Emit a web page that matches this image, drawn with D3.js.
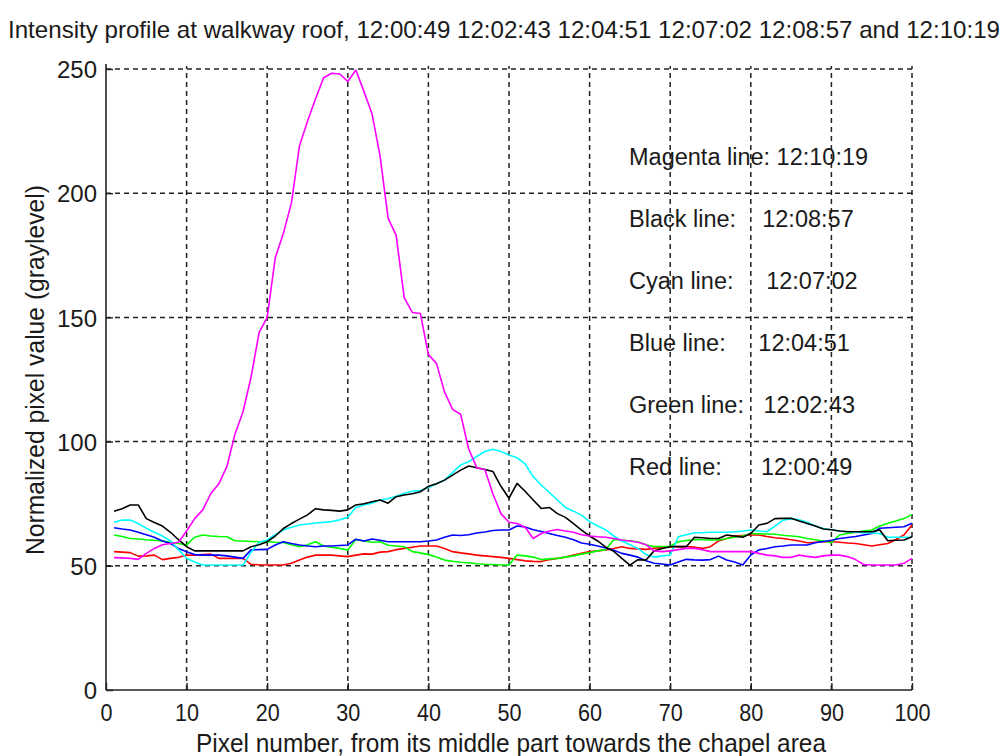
<!DOCTYPE html>
<html>
<head>
<meta charset="utf-8">
<script src="https://cdn.jsdelivr.net/npm/d3@7"></script>
<style>
  html, body { margin: 0; padding: 0; background: #fff; }
  svg { display: block; }
  .narrow { font-family: "Liberation Sans Narrow", "Arial Narrow", "Liberation Sans", Arial, sans-serif; }
  .legend { font-family: "Liberation Sans", Arial, Helvetica, sans-serif; white-space: pre; }
</style>
</head>
<body>
<svg id="chart" width="1004" height="756"></svg>
<script>
// Pixel positions along the profile (1..100)
const pixels = d3.range(1, 101);

// Normalized graylevel along the profile for each capture time
const magenta = [53.3,53.2,53,52.6,55,57,58.5,59,59.5,64,69,72.5,79,83,90,103,112,126,144,150,
  174,183.8,196,219,229,238,246.5,248.3,248,245,249.6,241,232,215,190,183,158,152,151.6,135,
  131.5,120,113,111,97,89.5,88.8,79,71,67.5,67,65.5,61,63,64,64.6,64,63.5,62.5,62,
  61.7,61.5,61,60.4,60,59.5,58.5,56,55.7,56,56.5,57,57,56.5,55.7,55.7,55.7,55.7,55.7,55.7,
  55,54.3,54,53.4,53.4,54.3,53.8,53.4,54,54.3,54.3,53.7,52.5,50.5,50.3,50.3,50.3,50.3,51,53];

const black = [72,73,74.5,74.5,69,67.4,66,63.5,60.5,57.7,56,56,56,56,56,56,56,57.7,58.5,59.7,
  62,65,67,68.8,70.5,73,72.5,72.3,72,72.5,74.5,75,75.8,76.5,75.2,77.8,78.5,79,79.8,82,
  83,84.5,86.5,88.5,90.2,89.5,88.8,88,82,77.2,83.2,80,76.5,73.1,73.5,71,69.5,67,64.4,62,
  60,57.5,55.8,53,50.3,52.5,52.3,56,57,57.7,57.7,57.7,61.5,61.3,61,61,62.4,62,61.5,63,
  66.4,67.1,69,69.1,69.1,68,67,66,64.8,64.5,64,63.7,63.7,63.7,63.7,64.4,60.1,60.3,60.4,61.7];

const cyan = [67.5,68.4,68.4,67,65.1,63.5,62,60,56.5,53,51.5,50.3,50.3,50.3,50.3,50.3,50.3,55.5,59.5,60.4,
  62.5,64.4,65.5,66.4,66.8,67.2,67.5,67.8,68.5,69.5,73.5,74.5,75.2,76.5,77,78,79.2,80,80.3,81.5,
  83,84.5,87.5,90.6,91.9,94,96,96.9,96,94.6,93.5,91,85.9,82.5,79.5,76.5,73.5,72,70.4,67.8,
  66,64.5,62,60,58.5,57,54.5,53.5,54,54.3,61.7,62.5,63.3,63.3,63.5,63.5,63.5,63.7,64,64.4,
  64,63.7,66,68.4,69,68.5,67.5,66,65,64.5,64,63.7,63.5,63.3,63.2,63,61.5,61.5,61.5,61.5];

const blue = [65.3,64.8,64.4,63.5,62.5,61.5,60,59,57,55.7,54.5,54.3,54.3,54.3,54,53.5,53,56.4,56.5,56.6,
  58.4,59.7,59,58.4,58,57.7,58,58,58.2,58.4,60.7,60,60.8,60.3,59.7,59.7,59.7,59.7,59.7,60,
  60.4,61.5,62.4,62.2,62.5,63.2,63.6,64.2,64.4,64.4,66,65.6,64.5,63.8,63,62.2,61.5,60.5,59.2,58.7,
  58,57.2,56.3,55,54.3,53.5,52,51,50.7,50.3,51.5,52.6,52.4,52.3,52.5,53.9,52.3,51.5,50.3,54.3,
  56.4,57,57.7,58,58.4,58.4,58.4,59.3,59.8,60.3,61,61.4,61.8,62.4,63,65.1,65.3,65.5,65.7,67.1];

const green = [62.4,61.8,61,60.8,60.5,60.3,60,59.5,59,58.4,61.5,62.4,62,61.8,61.7,60.1,60,59.8,59.7,59.7,
  59.5,59.4,58.5,57.7,58.5,59.7,58,57.5,57,56.4,60.6,60,59.5,59.7,58.3,58,57.7,55.7,55.2,54.5,
  53.5,52.3,51.8,51.4,51.2,50.8,50.6,50.5,50.3,50.3,54.3,54,53.5,52.5,52.8,53,53.5,54,54.7,55.3,
  56,56.5,60.6,60.3,60,59.7,58.5,57.7,57.8,57.9,59.7,60.2,60.6,60.5,60.4,60.4,61,61.5,62,63,
  62.9,62.8,62.7,62.3,62,61.7,61,60.5,60,59.3,62.4,63,63.5,64,64.4,66,67.1,68,69,70.7];

const red = [55.7,55.5,55.3,53.9,54,54.3,52.5,53,53.4,54.3,54.3,54.5,54.7,53,53,53,53,50.6,50.4,50.3,
  50.3,50.3,51,52.3,53.5,54.3,54.3,54.3,54,53.7,54.3,54.8,54.7,55.5,55.7,56.5,57,57.5,58,58,
  58,57,55.7,55.2,54.8,54.3,54,53.7,53.4,53,52.5,52,51.8,51.7,52.5,53,53.5,54.3,55,55.7,
  56,56.4,57,57.7,57,56.8,56.6,57,57.4,57.7,57.7,57.7,57.5,57,57.7,60,61,62,62.2,62.4,
  62.4,61.8,61.3,61,60.5,60,59.3,59.5,59.7,59.7,59.5,59.2,59,58.5,58,58.5,59,60.6,62.4,66.4];

// Axis ticks
const xTicks = [0, 10, 20, 30, 40, 50, 60, 70, 80, 90, 100];
const yTicks = [0, 50, 100, 150, 200, 250];

// Series in drawing order, with their colours
const seriesNames = ["red", "green", "blue", "cyan", "black", "magenta"];
const seriesValues = [red, green, blue, cyan, black, magenta];
const seriesColors = ["#ff0000", "#00ff00", "#0000ff", "#00ffff", "#000000", "#ff00ff"];

// Annotation lines listing each capture time
const legendLines = [
  "Magenta line: 12:10:19",
  "Black line:    12:08:57",
  "Cyan line:     12:07:02",
  "Blue line:     12:04:51",
  "Green line:   12:02:43",
  "Red line:      12:00:49"
];

const titleText = "Intensity profile at walkway roof, 12:00:49 12:02:43 12:04:51 12:07:02 12:08:57 and 12:10:19";
const xLabel = "Pixel number, from its middle part towards the chapel area";
const yLabel = "Normalized pixel value (graylevel)";

// ---- layout ----
const plot = { left: 106, right: 912, top: 69, bottom: 690 };
const svg = d3.select("#chart");

const x = d3.scaleLinear().domain([0, 100]).range([plot.left, plot.right]);
const y = d3.scaleLinear().domain([0, 250]).range([plot.bottom, plot.top]);

// dashed grid
const grid = svg.append("g").attr("stroke", "#222").attr("stroke-width", 1.5)
  .attr("stroke-dasharray", "5,4").attr("fill", "none");
grid.selectAll("line.gx").data(xTicks.filter(d => d > 0)).join("line")
  .attr("class", "gx")
  .attr("x1", d => x(d)).attr("x2", d => x(d))
  .attr("y1", plot.bottom).attr("y2", plot.top - 3);
grid.selectAll("line.gy").data(yTicks.filter(d => d > 0)).join("line")
  .attr("class", "gy")
  .attr("x1", plot.left).attr("x2", plot.right)
  .attr("y1", d => y(d)).attr("y2", d => y(d));

// data lines
const line = d3.line().x((d, i) => x(pixels[i])).y(d => y(d));
svg.append("g").selectAll("path").data(seriesValues).join("path")
  .attr("d", line)
  .attr("fill", "none")
  .attr("stroke", (d, i) => seriesColors[i])
  .attr("stroke-width", 1.6)
  .attr("stroke-linejoin", "round");

// axes: ticks point into the plot area
const xAxis = d3.axisBottom(x).tickValues(xTicks).tickSize(-7).tickPadding(14);
const yAxis = d3.axisLeft(y).tickValues(yTicks).tickSize(-7).tickPadding(16);

const gx = svg.append("g").attr("transform", `translate(0,${plot.bottom})`).call(xAxis);
const gy = svg.append("g").attr("transform", `translate(${plot.left},0)`).call(yAxis);

[gx, gy].forEach(g => {
  g.select(".domain").attr("stroke", "#222").attr("stroke-width", 1.6);
  g.selectAll(".tick line").attr("stroke", "#222").attr("stroke-width", 1.4);
  g.selectAll(".tick text")
    .attr("class", "narrow")
    .attr("font-size", 24)
    .attr("fill", "#1a1a1a");
});
gx.select(".domain").attr("d", `M${plot.left},0H${plot.right}`);
gy.select(".domain").attr("d", `M0,${plot.bottom}V${plot.top - 5}`);
// slightly condensed tick digits
gx.selectAll(".tick text").attr("dy", "0.72em").attr("transform", "scale(0.9,1)");
gy.selectAll(".tick text").attr("dy", "0.36em").attr("x", -9);

// title
svg.append("text").attr("class", "narrow")
  .attr("x", 8).attr("y", 38)
  .attr("font-size", 24).attr("fill", "#1a1a1a")
  .attr("textLength", 992).attr("lengthAdjust", "spacingAndGlyphs")
  .text(titleText);

// axis titles
svg.append("text").attr("class", "narrow")
  .attr("x", 196).attr("y", 752)
  .attr("font-size", 25).attr("fill", "#1a1a1a")
  .attr("textLength", 630).attr("lengthAdjust", "spacingAndGlyphs")
  .text(xLabel);

svg.append("text").attr("class", "narrow")
  .attr("transform", "translate(44,555) rotate(-90)")
  .attr("x", 0).attr("y", 0)
  .attr("font-size", 25).attr("fill", "#1a1a1a")
  .attr("textLength", 370).attr("lengthAdjust", "spacingAndGlyphs")
  .text(yLabel);

// capture-time annotations
svg.append("g").selectAll("text").data(legendLines).join("text")
  .attr("class", "legend")
  .attr("x", 629)
  .attr("y", (d, i) => 165 + i * 61.9)
  .attr("font-size", 23.5)
  .attr("fill", "#1a1a1a")
  .text(d => d);
</script>
</body>
</html>
